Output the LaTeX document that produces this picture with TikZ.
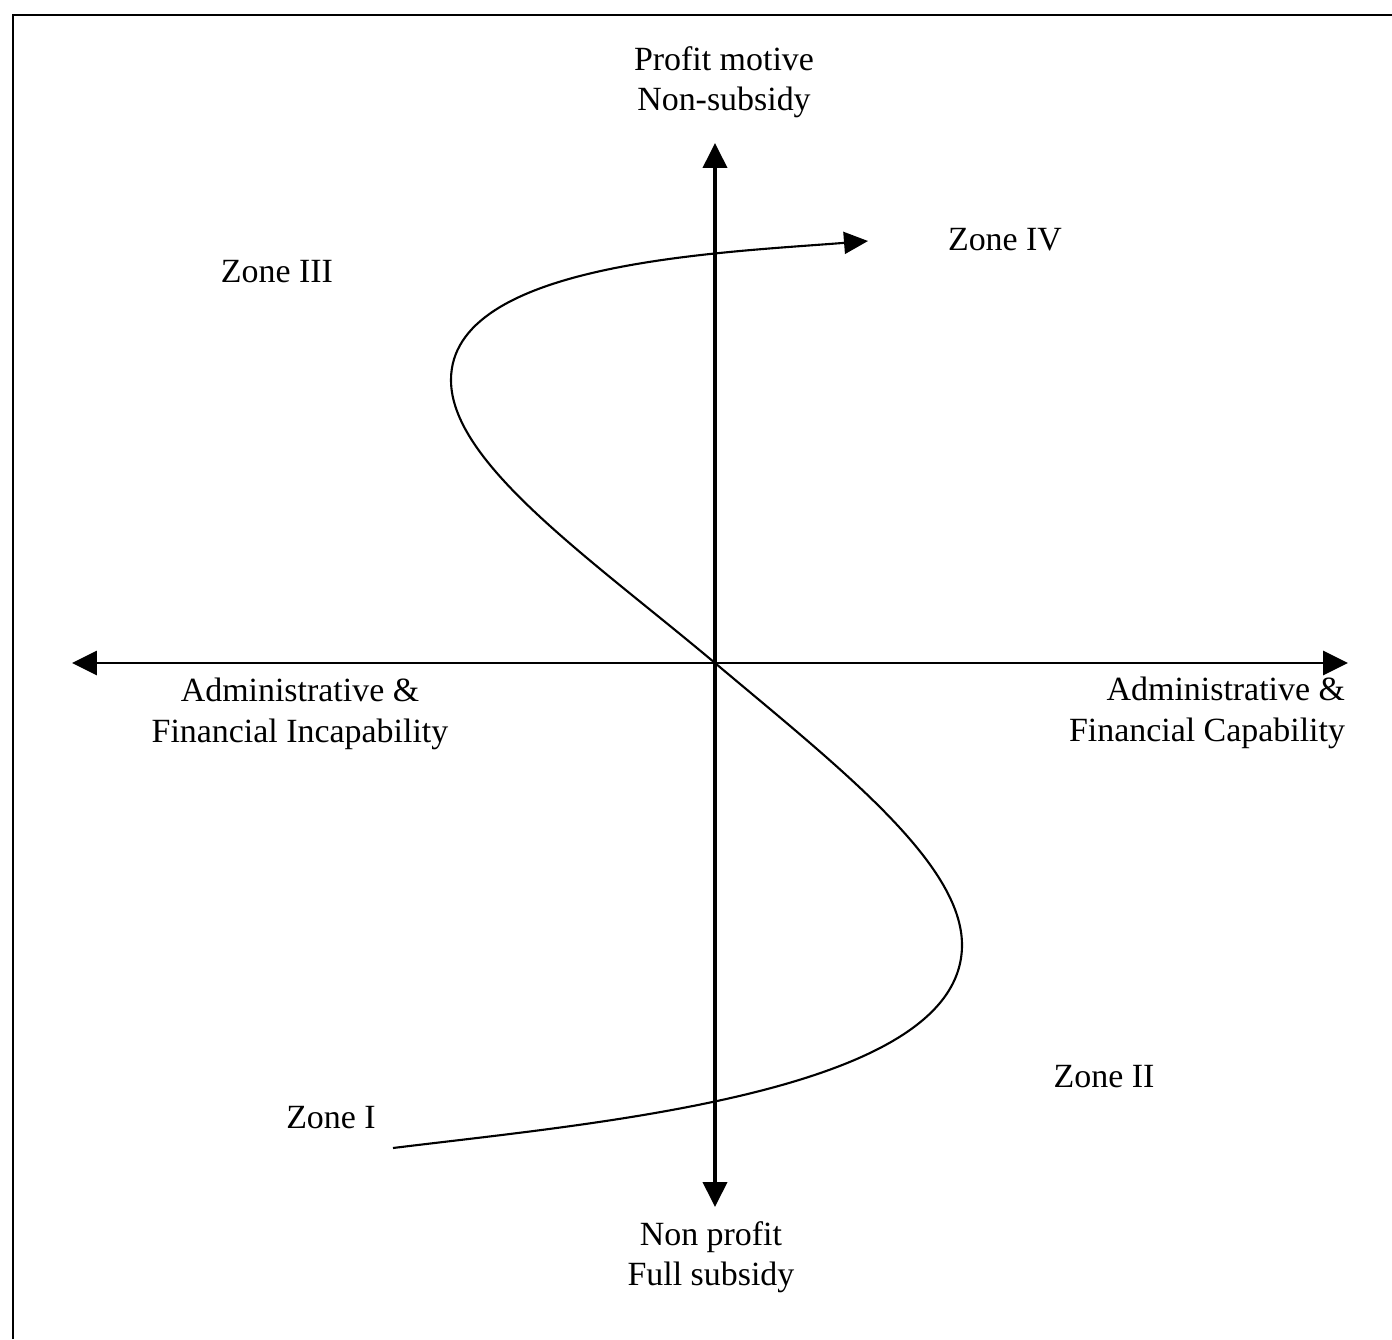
\documentclass[tikz,border=0pt]{standalone}
\usepackage{fontspec}
\setmainfont{Liberation Serif}
\usetikzlibrary{arrows.meta,positioning}
\definecolor{zoink}{HTML}{000000}
\definecolor{zopage}{HTML}{FFFFFF}
\tikzset{
  zoaxis/.style={
    {Triangle[length=2.5mm,width=2.4mm]}-{Triangle[length=2.5mm,width=2.4mm]},
    line width=0.8pt,
    color=zoink
  },
  zocurve/.style={
    -{Triangle[length=2.4mm,width=2.2mm]},
    line width=0.6pt,
    color=zoink
  },
  zoframe/.style={
    line width=0.8pt,
    color=zoink
  },
  zolabel/.style={
    font=\fontsize{9.65}{11.5}\selectfont,
    text=zoink,
    align=center,
    inner sep=0pt
  },
  zozone/.style={
    zolabel
  }
}

\begin{document}
\begin{tikzpicture}[x=1cm,y=1cm]
  \useasboundingbox[fill=zopage] (-7.15,-6.76) rectangle (6.77,6.63);
  \draw[zoframe] (-7.02,-6.76) -- (-7.02,6.48) -- (6.77,6.48);

  % axes
  \coordinate (origin) at (0,0);
  \coordinate (axwest) at (-6.43,0);
  \coordinate (axeast) at (6.33,0);
  \coordinate (axnorth) at (0,5.20);
  \coordinate (axsouth) at (0,-5.44);
  \draw[zoaxis] (axwest) -- (axeast);
  \draw[zoaxis, line width=1.1pt] (axsouth) -- (axnorth);

  % axis labels
  \node[zolabel] (profit) at (0.09,5.81) {Profit motive\\Non-subsidy};
  \node[zolabel] (nonprofit) at (-0.04,-5.94) {Non profit\\Full subsidy};
  \node[zolabel] (incap) at (-4.15,-0.51) {Administrative \&\\Financial Incapability};
  \node[zolabel, align=right] (cap) at (4.92,-0.50) {Administrative \&\\Financial Capability};

  % zones
  \node[zozone] (zone1) at (-3.84,-4.55) {Zone I};
  \node[zozone] (zone2) at (3.89,-4.14) {Zone II};
  \node[zozone] (zone3) at (-4.38,3.91) {Zone III};
  \node[zozone] (zone4) at (2.90,4.23) {Zone IV};

  % s-curve
  \coordinate (sstart) at (-3.22,-4.85);
  \coordinate (send) at (1.53,4.22);
  \draw[zocurve] (sstart)
    .. controls (-1.2,-4.6) and (2.47,-4.3) .. (2.47,-2.82)
    .. controls (2.47,-2.0) and (1.25,-1.05) .. (origin)
    .. controls (-1.25,1.05) and (-2.64,2.0) .. (-2.64,2.83)
    .. controls (-2.64,4.0) and (0,4.10) .. (send);
\end{tikzpicture}
\end{document}
